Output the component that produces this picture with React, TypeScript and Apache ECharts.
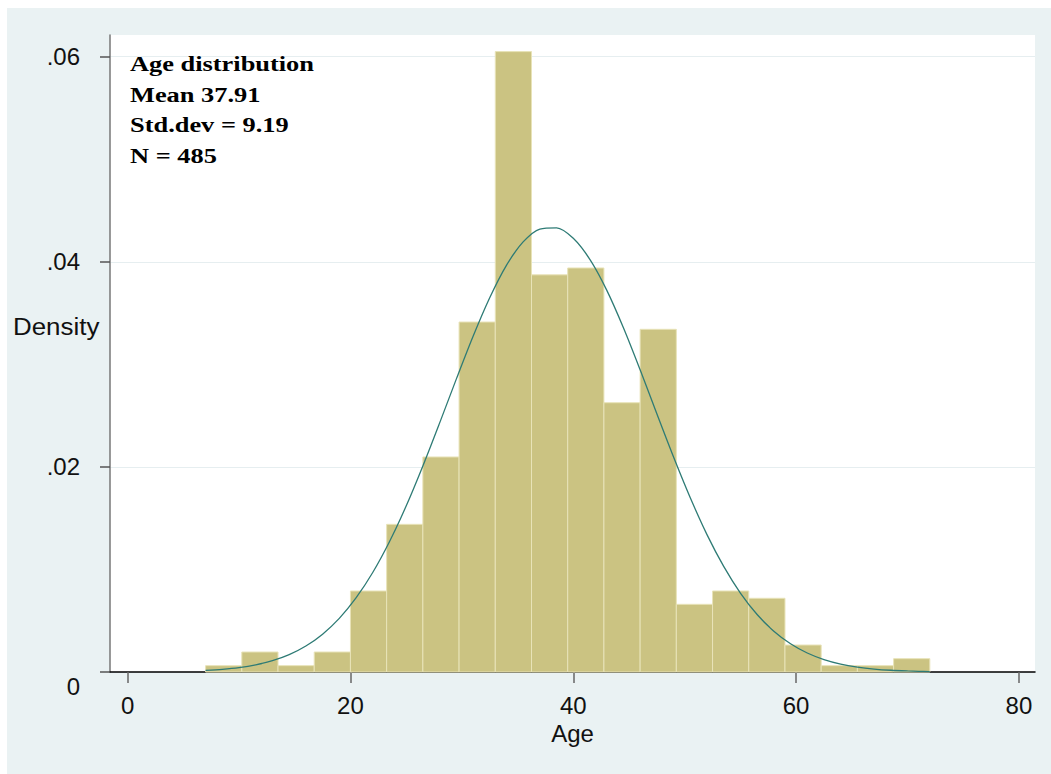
import React, { useEffect, useRef } from "react";
import * as echarts from "echarts";

// Histogram bins (Age), start of each bin and its width
const binStarts = [7, 10.25, 13.5, 16.75, 20, 23.25, 26.5, 29.75, 33, 36.25, 39.5, 42.75, 46, 49.25, 52.5, 55.75, 59, 62.25, 65.5, 68.75];
const BIN_WIDTH = 3.25;
// Density of each bin
const densities = [0.00062, 0.00195, 0.00062, 0.00195, 0.0079, 0.0144, 0.02097, 0.03413, 0.0605, 0.03873, 0.0394, 0.02626, 0.03342, 0.0066, 0.0079, 0.00719, 0.00263, 0.00062, 0.00062, 0.0013];

// Normal density overlay
const curveX = [7, 8.5, 10, 11.5, 13, 14.5, 16, 17.5, 19, 20.5, 22, 23.5, 25, 26.5, 28, 29.5, 31, 32.5, 34, 35.5, 37, 38.5, 40, 41.5, 43, 44.5, 46, 47.5, 49, 50.5, 52, 53.5, 55, 56.5, 58, 59.5, 61, 62.5, 64, 65.5, 67, 68.5, 70, 71, 72];
const curveY = [0.00015, 0.00026, 0.00043, 0.0007, 0.0011, 0.00169, 0.00253, 0.00369, 0.00523, 0.00722, 0.0097, 0.0127, 0.01618, 0.02009, 0.02427, 0.02856, 0.03272, 0.0365, 0.03966, 0.04194, 0.0432, 0.04332, 0.0423, 0.04022, 0.03724, 0.03357, 0.02947, 0.02518, 0.02096, 0.01699, 0.0134, 0.0103, 0.0077, 0.00561, 0.00398, 0.00275, 0.00185, 0.00121, 0.00077, 0.00048, 0.00029, 0.00017, 0.0001, 0.00007, 0.00004];

const xTicks = [0, 20, 40, 60, 80];
const yTicks = [0, 0.02, 0.04, 0.06];
const yTickLabels = ["0", ".02", ".04", ".06"];
const annotationLines = ["Age distribution", "Mean 37.91", "Std.dev = 9.19", "N = 485"];

const X_MIN = -1.58;
const X_MAX = 81.44;
const Y_MAX = 0.06212;

export default function App() {
  const ref = useRef<HTMLDivElement>(null);

  useEffect(() => {
    if (!ref.current) return;
    const chart = echarts.init(ref.current, undefined, { renderer: "svg" });
    const font = '"Liberation Sans", Arial, sans-serif';
    const binData = binStarts.map((s, i) => [s, s + BIN_WIDTH, densities[i]]);
    const curveData = curveX.map((x, i) => [x, curveY[i]]);

    chart.setOption({
      animation: false,
      backgroundColor: "#eaf2f3",
      grid: {
        left: 103,
        top: 27,
        right: 16,
        bottom: 102,
        show: true,
        backgroundColor: "#ffffff",
        borderWidth: 0,
        containLabel: false,
      },
      xAxis: {
        type: "value",
        min: X_MIN,
        max: X_MAX,
        name: "Age",
        nameLocation: "middle",
        nameGap: 48,
        nameTextStyle: { fontFamily: font, fontSize: 24, color: "#111" },
        axisLine: { show: true, onZero: false, lineStyle: { color: "#000", width: 1.5 } },
        axisTick: { show: true, customValues: xTicks, length: 11, lineStyle: { color: "#666", width: 1.5 } },
        axisLabel: {
          customValues: xTicks,
          margin: 21,
          fontFamily: font,
          fontSize: 24,
          color: "#111",
          formatter: (v: number) => String(v),
        },
        splitLine: { show: false },
      },
      yAxis: {
        type: "value",
        min: 0,
        max: Y_MAX,
        interval: 0.02,
        axisLine: { show: true, onZero: false, lineStyle: { color: "#777", width: 1.5 } },
        axisTick: { show: true, customValues: yTicks, length: 10, lineStyle: { color: "#555", width: 1.5 } },
        axisLabel: {
          customValues: yTicks,
          margin: 30,
          fontFamily: font,
          fontSize: 24,
          color: "#111",
          formatter: (v: number) => {
            const idx = yTicks.findIndex((t) => Math.abs(t - v) < 1e-9);
            if (idx < 0) return "";
            if (idx === 0) return "{z|" + yTickLabels[0] + "}";
            return yTickLabels[idx];
          },
          rich: {
            z: { fontFamily: font, fontSize: 24, color: "#111", padding: [28, 0, 0, 0] },
          },
        },
        splitLine: { show: true, lineStyle: { color: "#e6eef0", width: 1 } },
      },
      graphic: [
        {
          type: "text",
          x: 6,
          y: 306,
          scaleX: 1.08,
          style: {
            text: "Density",
            fontFamily: font,
            fontSize: 24,
            fill: "#111",
          },
        },
        {
          type: "text",
          x: 123,
          y: 40,
          scaleX: 1.2,
          z: 100,
          style: {
            text: annotationLines.join("\n"),
            font: 'bold 22px "Liberation Serif", "Times New Roman", serif',
            lineHeight: 30.7,
            fill: "#000",
          },
        },
      ],
      series: [
        {
          type: "custom",
          name: "Age",
          data: binData,
          encode: { x: [0, 1], y: 2 },
          renderItem: (params: any, api: any) => {
            const p0 = api.coord([api.value(0), api.value(2)]);
            const p1 = api.coord([api.value(1), 0]);
            return {
              type: "rect",
              shape: { x: p0[0], y: p0[1], width: p1[0] - p0[0], height: p1[1] - p0[1] },
              style: { fill: "#cbc382", stroke: "#e8e3b8", lineWidth: 1 },
            };
          },
          z: 2,
        },
        {
          type: "line",
          name: "Normal",
          data: curveData,
          smooth: 0.3,
          showSymbol: false,
          symbol: "none",
          lineStyle: { color: "#2e7b75", width: 1.3 },
          z: 3,
        },
      ],
    });

    return () => {
      chart.dispose();
    };
  }, []);

  return (
    <div
      ref={ref}
      style={{ position: "fixed", left: 7, top: 8, width: 1044, height: 766 }}
    />
  );
}
